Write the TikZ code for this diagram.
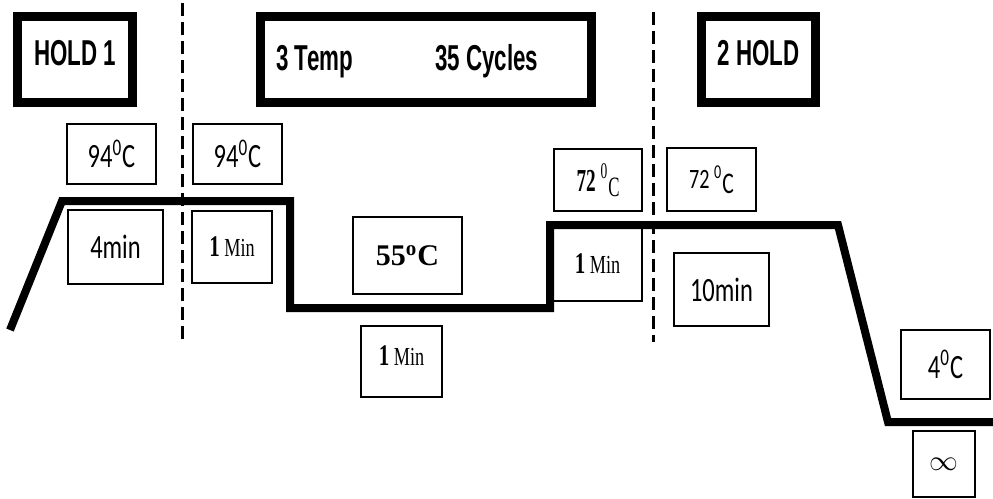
\documentclass[tikz,border=0pt]{standalone}
\usepackage{fontspec}
\setmainfont{Liberation Serif}
\newfontfamily\hdfont[FakeStretch=0.62]{Liberation Sans}
\newfontfamily\calfont[FakeStretch=0.72]{Carlito}
\newfontfamily\tmsfont[FakeStretch=0.7]{Liberation Serif}
\newfontfamily\tmsnarrow[FakeStretch=0.6]{Liberation Serif}
\begin{document}
\begin{tikzpicture}[x=0.5pt,y=-0.5pt,
  heavybox/.style={draw, line width=4.5pt, inner sep=0pt},
  thinbox/.style={draw, line width=1pt, inner sep=0pt},
  profile/.style={line width=4pt, line join=miter},
  divider/.style={line width=1.5pt, dash pattern=on 6.5pt off 3pt},
  hdtxt/.style={font=\hdfont\bfseries\fontsize{18}{20}\selectfont},
  caltxt/.style={font=\calfont\fontsize{17}{20}\selectfont},
  tmstxt/.style={font=\tmsfont\fontsize{13}{15}\selectfont},
]
\useasboundingbox (0,0) rectangle (993,499);

% header boxes
\node[heavybox, hdtxt, minimum width=57.5pt, minimum height=43pt, text depth=7pt] (hold1) at (75,59.5) {HOLD 1};
\node[heavybox, minimum width=165.5pt, minimum height=43pt] (cyc) at (426,59.5) {};
\node[hdtxt, anchor=base west, inner sep=0pt] (temp3) at (276,70) {3 Temp};
\node[hdtxt, anchor=base west, inner sep=0pt] (cycles) at (435,70) {35 Cycles};
\node[heavybox, hdtxt, minimum width=57pt, minimum height=43pt, text depth=7pt] (hold2) at (758.5,59.5) {2 HOLD};

% temperature / time boxes
\node[thinbox, caltxt, minimum width=44.5pt, minimum height=30pt] (t94a) at (111.5,154) {94\textsuperscript{0}C};
\node[thinbox, caltxt, minimum width=44.5pt, minimum height=30pt] (t94b) at (237.5,154) {94\textsuperscript{0}C};
\node[thinbox, caltxt, minimum width=47.5pt, minimum height=37pt] (m4) at (115.5,247) {4min};
\node[thinbox, tmstxt, minimum width=40pt, minimum height=36pt] (m1a) at (232,247) {{\fontsize{15}{17}\selectfont\bfseries 1} Min};
\node[thinbox, font=\bfseries\fontsize{15}{17}\selectfont, minimum width=54.5pt, minimum height=38.5pt] (t55) at (407.5,255.5) {55\textsuperscript{o}C};
\node[thinbox, tmstxt, minimum width=40.5pt, minimum height=35.5pt, text depth=6pt] (m1b) at (401.5,361.5) {{\fontsize{15}{17}\selectfont\bfseries 1} Min};
\node[thinbox, font=\tmsnarrow\fontsize{16}{18}\selectfont, minimum width=44pt, minimum height=31pt] (t72a) at (598,180) {\textbf{72} \textsuperscript{0}{\fontsize{14}{16}\selectfont\raisebox{-2.5pt}{C}}};
\node[thinbox, tmstxt, minimum width=44.5pt, minimum height=37pt] (m1c) at (597.5,264) {{\fontsize{15}{17}\selectfont\bfseries 1} Min};
\node[thinbox, font=\calfont\fontsize{14}{16}\selectfont, minimum width=44.5pt, minimum height=31.5pt] (t72b) at (711.5,179.5) {72 \textsuperscript{0}{\fontsize{15}{16}\selectfont\raisebox{-2.5pt}{C}}};
\node[thinbox, caltxt, minimum width=47.5pt, minimum height=36.5pt] (m10) at (721.5,289.5) {10min};
\node[thinbox, caltxt, minimum width=44.5pt, minimum height=34.5pt] (t4) at (945.5,364.5) {4\textsuperscript{0}C};
\node[thinbox, font=\fontsize{15}{17}\selectfont, minimum width=31pt, minimum height=33pt] (inf) at (944,464) {$\infty$};

% temperature profile
\draw[profile] (10,330) -- (62,201) -- (290,201) -- (290,308) -- (550,308)
  -- (550,225) -- (838,225) -- (888,422) -- (993,422);

% stage dividers
\draw[divider] (182,3) -- (182,340);
\draw[divider] (653,12) -- (653,342);
\end{tikzpicture}
\end{document}
